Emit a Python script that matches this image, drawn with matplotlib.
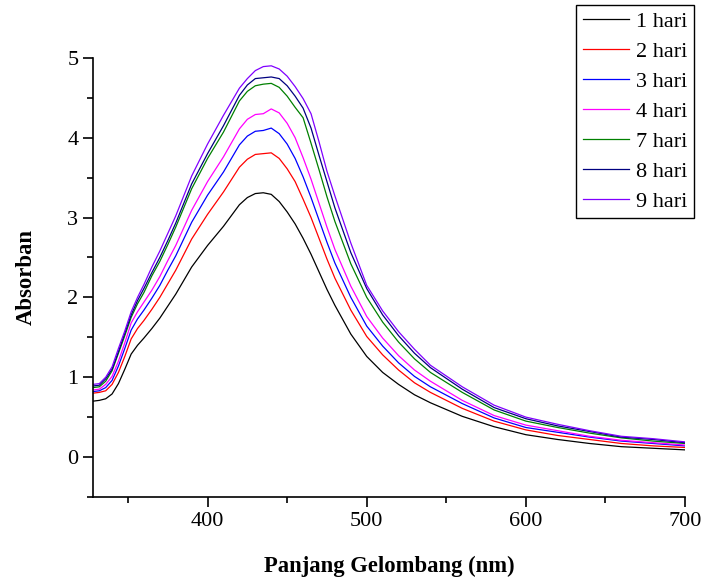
import matplotlib
matplotlib.use("Agg")
from matplotlib import pyplot as plt
from matplotlib.ticker import MultipleLocator

plt.rcParams['font.family'] = ['Liberation Serif', 'DejaVu Serif']

# wavelength grid (nm)
wavelength = [328, 332, 336, 340, 344, 348, 352, 356, 360, 365, 370, 375, 380,
              390, 400, 410, 420, 425, 430, 435, 440, 445, 450, 455, 460, 465,
              470, 475, 480, 490, 500, 510, 520, 530, 540, 560, 580, 600, 620,
              640, 660, 680, 700]

hari_1 = [0.70, 0.71, 0.73, 0.79, 0.92, 1.10, 1.29, 1.40, 1.49, 1.61, 1.74, 1.89, 2.04,
          2.38, 2.65, 2.89, 3.16, 3.25, 3.30, 3.31, 3.29, 3.20, 3.07, 2.92, 2.74, 2.54,
          2.32, 2.10, 1.90, 1.54, 1.26, 1.06, 0.91, 0.78, 0.68, 0.51, 0.38, 0.28, 0.22,
          0.17, 0.13, 0.11, 0.09]
hari_2 = [0.80, 0.81, 0.83, 0.91, 1.06, 1.26, 1.48, 1.61, 1.71, 1.85, 2.00, 2.17, 2.34,
          2.73, 3.04, 3.32, 3.63, 3.73, 3.79, 3.80, 3.81, 3.74, 3.61, 3.45, 3.23, 3.00,
          2.74, 2.48, 2.24, 1.84, 1.51, 1.28, 1.09, 0.93, 0.81, 0.61, 0.45, 0.34, 0.27,
          0.22, 0.17, 0.14, 0.12]
hari_3 = [0.82, 0.83, 0.87, 0.96, 1.14, 1.36, 1.59, 1.73, 1.84, 1.99, 2.15, 2.34, 2.52,
          2.94, 3.28, 3.57, 3.91, 4.02, 4.08, 4.09, 4.12, 4.05, 3.92, 3.74, 3.51, 3.25,
          2.97, 2.69, 2.43, 2.00, 1.64, 1.39, 1.18, 1.01, 0.88, 0.67, 0.49, 0.37, 0.31,
          0.25, 0.20, 0.17, 0.14]
hari_4 = [0.84, 0.85, 0.91, 1.01, 1.20, 1.43, 1.68, 1.82, 1.94, 2.09, 2.26, 2.46, 2.65,
          3.09, 3.45, 3.76, 4.11, 4.23, 4.29, 4.30, 4.36, 4.31, 4.18, 4.00, 3.75, 3.48,
          3.18, 2.88, 2.60, 2.14, 1.76, 1.49, 1.27, 1.09, 0.95, 0.71, 0.52, 0.40, 0.33,
          0.26, 0.21, 0.18, 0.15]
hari_7 = [0.87, 0.88, 0.95, 1.08, 1.30, 1.52, 1.75, 1.92, 2.06, 2.27, 2.45, 2.66, 2.88,
          3.36, 3.74, 4.07, 4.46, 4.58, 4.65, 4.67, 4.68, 4.63, 4.52, 4.38, 4.25, 3.93,
          3.60, 3.26, 2.95, 2.42, 2.00, 1.69, 1.44, 1.23, 1.06, 0.81, 0.59, 0.45, 0.37,
          0.30, 0.24, 0.20, 0.17]
hari_8 = [0.89, 0.90, 0.98, 1.10, 1.32, 1.55, 1.78, 1.96, 2.11, 2.31, 2.50, 2.71, 2.93,
          3.42, 3.80, 4.15, 4.53, 4.66, 4.74, 4.75, 4.76, 4.74, 4.65, 4.52, 4.37, 4.12,
          3.78, 3.45, 3.12, 2.56, 2.11, 1.78, 1.52, 1.30, 1.12, 0.85, 0.62, 0.48, 0.39,
          0.32, 0.25, 0.22, 0.18]
hari_9 = [0.91, 0.92, 1.00, 1.13, 1.36, 1.58, 1.82, 2.00, 2.16, 2.38, 2.58, 2.80, 3.02,
          3.52, 3.92, 4.28, 4.62, 4.74, 4.84, 4.89, 4.90, 4.86, 4.77, 4.64, 4.49, 4.30,
          3.95, 3.58, 3.27, 2.68, 2.15, 1.83, 1.57, 1.35, 1.15, 0.88, 0.65, 0.50, 0.41,
          0.33, 0.26, 0.23, 0.19]

labels = ['1 hari', '2 hari', '3 hari', '4 hari', '7 hari', '8 hari', '9 hari']
colors = ['black', 'red', 'blue', 'magenta', 'green', 'navy', '#8000ff']
series = [hari_1, hari_2, hari_3, hari_4, hari_7, hari_8, hari_9]

fig = plt.figure(figsize=(7.07, 5.84), dpi=100)
ax = fig.add_axes([0.1315, 0.149, 0.8375, 0.752])

for y, c, lab in zip(series, colors, labels):
    ax.plot(wavelength, y, color=c, lw=0.9, label=lab)

ax.set_xlim(328, 700)
ax.set_ylim(-0.5, 5)
ax.xaxis.set_major_locator(MultipleLocator(100))
ax.xaxis.set_minor_locator(MultipleLocator(50))
ax.yaxis.set_major_locator(MultipleLocator(1))
ax.yaxis.set_minor_locator(MultipleLocator(0.5))
ax.tick_params(which='major', direction='out', length=7, width=1.2, labelsize=16)
ax.tick_params(which='minor', direction='out', length=4, width=1.2)
ax.spines['top'].set_visible(False)
ax.spines['right'].set_visible(False)
ax.spines['left'].set_linewidth(1.2)
ax.spines['bottom'].set_linewidth(1.2)

ax.set_xlabel('Panjang Gelombang (nm)', fontsize=16.3, fontweight='bold', labelpad=18)
ax.set_ylabel('Absorban', fontsize=16.3, fontweight='bold', labelpad=22)

leg = ax.legend(loc='upper right', bbox_to_anchor=(694 / 707, 1 - 5 / 584),
                bbox_transform=fig.transFigure, borderaxespad=0, fontsize=16,
                fancybox=False, edgecolor='black', framealpha=1,
                handlelength=2.1, handletextpad=0.3, labelspacing=0.42, borderpad=0.3)
leg.get_frame().set_linewidth(1.0)

fig.savefig('out.png', dpi=100)
